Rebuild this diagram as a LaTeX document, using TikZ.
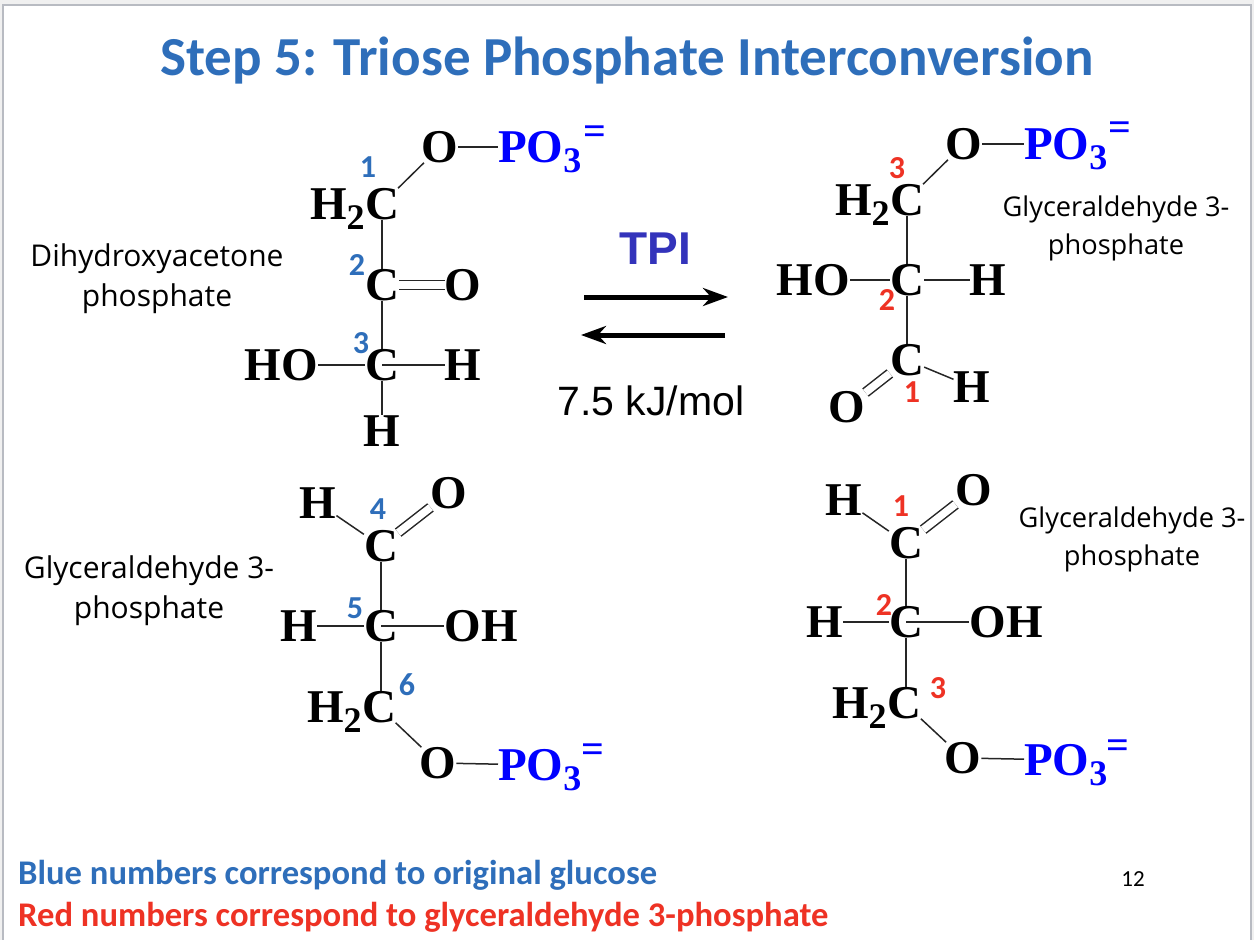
\documentclass[tikz,border=0pt]{standalone}
\usepackage{fontspec}
\setmainfont{Liberation Serif}
\newfontfamily\calfont{Carlito}
\newfontfamily\opfont{Open Sans}
\newfontfamily\arfont{Liberation Sans}
\usetikzlibrary{arrows.meta}
\definecolor{stepblue}{RGB}{46,110,186}
\definecolor{numred}{RGB}{238,50,36}
\definecolor{tpiblue}{RGB}{51,51,187}
\definecolor{edgegray}{RGB}{184,187,194}
\definecolor{pagegray}{RGB}{240,240,240}
\newcommand{\subnum}[1]{\raisebox{-10pt}{\fontsize{36}{36}\selectfont #1}}
\tikzset{
  atom/.style={font=\fontsize{47}{47}\selectfont\bfseries,inner sep=0pt,text depth=0pt},
  phos/.style={atom,text=blue,anchor=west},
  charge/.style={font=\fontsize{40}{40}\selectfont\bfseries,text=blue,inner sep=0pt},
  bond/.style={line width=1.5pt,black!85},
  dbond/.style={bond,double,double distance=7.5pt},
  bluenum/.style={font=\calfont\fontsize{32}{32}\selectfont\bfseries,text=stepblue,inner sep=0pt},
  rednum/.style={font=\calfont\fontsize{32}{32}\selectfont\bfseries,text=numred,inner sep=0pt},
  bigname/.style={font=\opfont\fontsize{30}{40}\selectfont,align=center,inner sep=0pt},
  smallname/.style={font=\opfont\fontsize{27.2}{38}\selectfont,align=center,inner sep=0pt},
  foot/.style={font=\calfont\fontsize{34.6}{34.6}\selectfont\bfseries,anchor=west,inner sep=0pt},
  rxn/.style={line width=5pt,-{Stealth[length=25pt,width=18pt,inset=8pt]}}
}
\begin{document}
\begin{tikzpicture}[x=1pt,y=-1pt]
  \useasboundingbox (0,0) rectangle (1254,940);
  \fill[pagegray] (0,0) rectangle (1254,940);
  \fill[white] (3,5) rectangle (1251,940);
  \draw[edgegray,line width=2pt] (3,940) -- (3,5) -- (1251,5) -- (1251,940);
  \node[font=\calfont\fontsize{55}{55}\selectfont\bfseries,text=stepblue,inner sep=0pt] (title) at (627,61) {Step 5: Triose Phosphate Interconversion};

  % dihydroxyacetone phosphate
  \node[atom] (aO) at (440,147) {O};
  \node[phos] (aP) at (498,147) {PO\subnum{3}};
  \node[charge] (aQ) at (595,135) {=};
  \node[atom] (aC1) at (382,204) {C};
  \node[atom,anchor=east] (aH) at (aC1.west) {H\subnum{2}};
  \node[atom] (aC2) at (382,285) {C};
  \node[atom] (aO2) at (463,285) {O};
  \node[atom] (aC3) at (382,365) {C};
  \node[atom] (aHO) at (281,365) {HO};
  \node[atom] (aH1) at (463,365) {H};
  \node[atom] (aH2) at (382,431) {H};
  \node[bluenum] (an1) at (368,167) {1};
  \node[bluenum] (an2) at (357,265) {2};
  \node[bluenum] (an3) at (361,343) {3};
  \draw[bond] (aO) -- (aP);
  \draw[bond] (aO) -- (aC1);
  \draw[bond] (aC1) -- (aC2);
  \draw[bond] (aC2) -- (aC3);
  \draw[bond] (aC3) -- (aHO);
  \draw[bond] (aC3.center) -- (aH1);
  \draw[bond] (aC3) -- (aH2);
  \draw[dbond] (aC2) -- (aO2);

  % glyceraldehyde 3-phosphate, top right
  \node[atom] (bO) at (964,144) {O};
  \node[phos] (bP) at (1024,144) {PO\subnum{3}};
  \node[charge] (bQ) at (1120,131) {=};
  \node[atom] (bC1) at (907,200) {C};
  \node[atom,anchor=east] (bH) at (bC1.west) {H\subnum{2}};
  \node[atom] (bC2) at (907,280) {C};
  \node[atom] (bHO) at (813,280) {HO};
  \node[atom] (bH1) at (988,280) {H};
  \node[atom] (bC3) at (907,360) {C};
  \node[atom] (bH2) at (972,387) {H};
  \node[atom] (bO2) at (847,407) {O};
  \node[rednum] (bn3) at (897,168) {3};
  \node[rednum] (bn2) at (887,300) {2};
  \node[rednum] (bn1) at (912,392) {1};
  \draw[bond] (bO) -- (bP);
  \draw[bond] (bO) -- (bC1);
  \draw[bond] (bC1) -- (bC2);
  \draw[bond] (bC2) -- (bC3);
  \draw[bond] (bC2) -- (bHO);
  \draw[bond] (bC2) -- (bH1);
  \draw[bond] (bC3) -- (bH2);
  \draw[dbond] (bC3) -- (bO2);

  % glyceraldehyde 3-phosphate, bottom left
  \node[atom] (cH1) at (318,503) {H};
  \node[atom] (cO2) at (449,493) {O};
  \node[atom] (cC1) at (381,546) {C};
  \node[atom] (cC2) at (381,626) {C};
  \node[atom] (cH2) at (299,626) {H};
  \node[atom] (cOH) at (481,626) {OH};
  \node[atom] (cC3) at (379,707) {C};
  \node[atom,anchor=east] (cH) at (cC3.west) {H\subnum{2}};
  \node[atom] (cO) at (438,763) {O};
  \node[phos] (cP) at (498,765) {PO\subnum{3}};
  \node[charge] (cQ) at (593,753) {=};
  \node[bluenum] (cn4) at (378,509) {4};
  \node[bluenum] (cn5) at (355,608) {5};
  \node[bluenum] (cn6) at (407,685) {6};
  \draw[bond] (cH1) -- (cC1);
  \draw[dbond] (cC1) -- (cO2);
  \draw[bond] (cC1) -- (cC2);
  \draw[bond] (cC2) -- (cH2);
  \draw[bond] (cC2.center) -- (cOH);
  \draw[bond] (cC2) -- (cC2 |- cC3.north);
  \draw[bond] (cC3) -- (cO);
  \draw[bond] (cO) -- (cP);

  % glyceraldehyde 3-phosphate, bottom right
  \node[atom] (dH1) at (844,500) {H};
  \node[atom] (dO2) at (974,490) {O};
  \node[atom] (dC1) at (906,543) {C};
  \node[atom] (dC2) at (906,622) {C};
  \node[atom] (dH2) at (825,622) {H};
  \node[atom] (dOH) at (1006,622) {OH};
  \node[atom] (dC3) at (904,703) {C};
  \node[atom,anchor=east] (dH) at (dC3.west) {H\subnum{2}};
  \node[atom] (dO) at (963,758) {O};
  \node[phos] (dP) at (1024,760) {PO\subnum{3}};
  \node[charge] (dQ) at (1118,749) {=};
  \node[rednum] (dn1) at (901,506) {1};
  \node[rednum] (dn2) at (884,605) {2};
  \node[rednum] (dn3) at (938,688) {3};
  \draw[bond] (dH1) -- (dC1);
  \draw[dbond] (dC1) -- (dO2);
  \draw[bond] (dC1) -- (dC2);
  \draw[bond] (dC2) -- (dH2);
  \draw[bond] (dC2.center) -- (dOH);
  \draw[bond] (dC2) -- (dC2 |- dC3.north);
  \draw[bond] (dC3) -- (dO);
  \draw[bond] (dO) -- (dP);

  % names
  \node[bigname] (aname) at (157,279) {Dihydroxyacetone\\phosphate};
  \node[smallname] (bname) at (1116,228) {Glyceraldehyde 3-\\phosphate};
  \node[bigname] (cname) at (149,591) {Glyceraldehyde 3-\\phosphate};
  \node[smallname] (dname) at (1132,539) {Glyceraldehyde 3-\\phosphate};

  % enzyme
  \node[font=\arfont\fontsize{46}{46}\selectfont\bfseries,text=tpiblue,inner sep=0pt] (tpi) at (655,249) {TPI};
  \coordinate (fwdA) at (584,297);
  \coordinate (fwdB) at (728,297);
  \coordinate (revA) at (725,335);
  \coordinate (revB) at (581,335);
  \draw[rxn] (fwdA) -- (fwdB);
  \draw[rxn] (revA) -- (revB);
  \node[font=\arfont\fontsize{41}{41}\selectfont,inner sep=0pt] (energy) at (651,401) {7.5 kJ/mol};

  % footer
  \node[foot,text=stepblue] (bluenote) at (18,875) {Blue numbers correspond to original glucose};
  \node[foot,text=numred] (rednote) at (18,917) {Red numbers correspond to glyceraldehyde 3-phosphate};
  \node[font=\calfont\fontsize{23}{23}\selectfont,inner sep=0pt] (page) at (1133,879) {12};
\end{tikzpicture}
\end{document}
